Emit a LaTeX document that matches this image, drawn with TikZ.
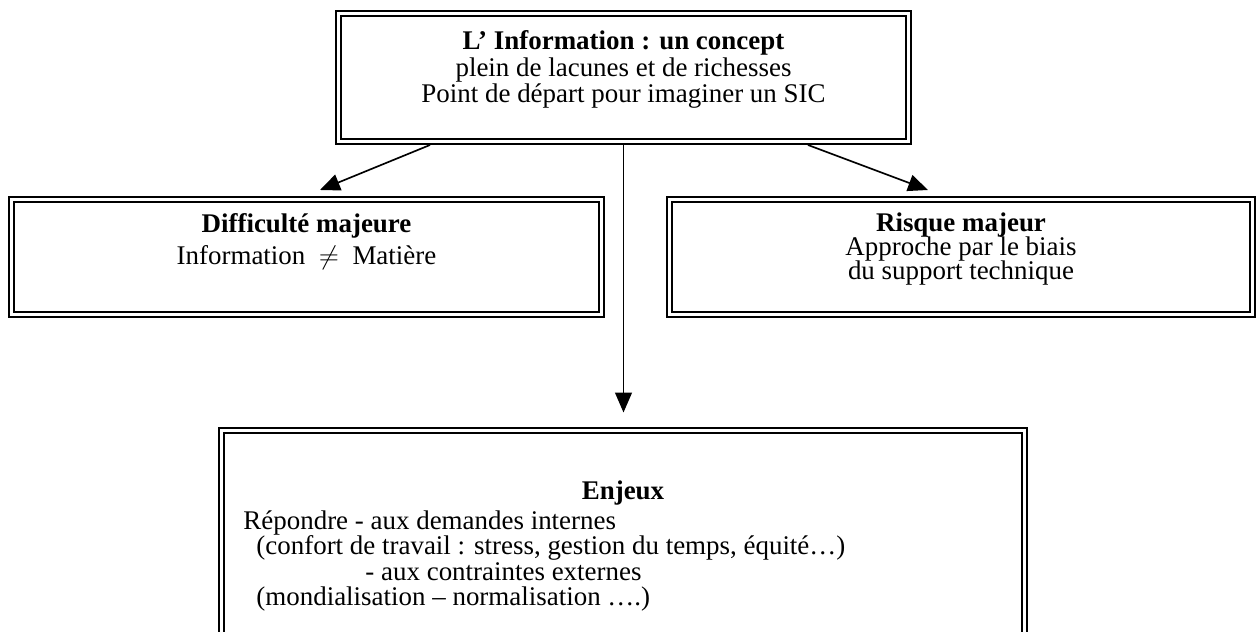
\documentclass[tikz,border=0pt]{standalone}
\usepackage{fontspec}
\setmainfont{Liberation Serif}
\usetikzlibrary{arrows.meta,calc}
\begin{document}
\begin{tikzpicture}[x=0.4528pt, y=-0.4528pt,
  frame/.style={draw, double, line width=0.9pt, double distance=1.36pt,
    inner sep=0pt, outer sep=0pt, rectangle},
  txt/.style={anchor=base, inner sep=0pt, font=\fontsize{12.2}{12.2}\selectfont},
  lefttxt/.style={txt, anchor=base west},
  title/.style={txt, font=\fontsize{12.2}{12.2}\selectfont\bfseries},
  arr/.style={-{Triangle[length=9pt,width=7.6pt]}, line width=0.75pt}]
\useasboundingbox (0,0) rectangle (1257,632);
\fill[white] (0,0) rectangle (1257,632);
\clip (0,0) rectangle (1257,632);

% boxes (sizes in pixels of 0.4528pt)
\node[frame, minimum width={570*0.4528pt}, minimum height={128*0.4528pt}] (top) at (623.5,77.5) {};
\node[frame, minimum width={590*0.4528pt}, minimum height={115*0.4528pt}] (left) at (306.5,257) {};
\node[frame, minimum width={583*0.4528pt}, minimum height={115*0.4528pt}] (right) at (961,257) {};
\node[frame, minimum width={803*0.4528pt}, minimum height={270*0.4528pt}] (bottom) at (623,565.5) {};

% top box text
\node[title] (t1) at (623.5,50) {L’ Information : un concept};
\node[txt] (t2) at (623.5,76.5) {plein de lacunes et de richesses};
\node[txt] (t3) at (623.5,103) {Point de départ pour imaginer un SIC};

% left box text
\node[title] (l1) at (306.5,233) {Difficulté majeure};
\node[txt] (l2) at (306.5,265) {Information \ $\neq$ \ Matière};

% right box text
\node[title] (r1) at (961,232) {Risque majeur};
\node[txt] (r2) at (961,256) {Approche par le biais};
\node[txt] (r3) at (961,280) {du support technique};

% bottom box text
\node[title] (b1) at (623,500) {Enjeux};
\node[lefttxt] (b2) at (243,530) {Répondre - aux demandes internes};
\node[lefttxt] (b3) at (256,555) {(confort de travail : stress, gestion du temps, équité…)};
\node[lefttxt] (b4) at (365,580) {- aux contraintes externes};
\node[lefttxt] (b5) at (256,605) {(mondialisation – normalisation ….)};

% connectors
\draw[arr] ($(top.south)+(-193.5,3.5)$) -- ($(left.north)+(13.5,-9.5)$);
\draw[arr] ($(top.south)+(184.5,3.5)$) -- ($(right.north)+(-33,-9.5)$);
\draw[arr] ($(top.south)+(0,3.5)$) -- ($(bottom.north)+(0.5,-18)$);
\end{tikzpicture}
\end{document}
